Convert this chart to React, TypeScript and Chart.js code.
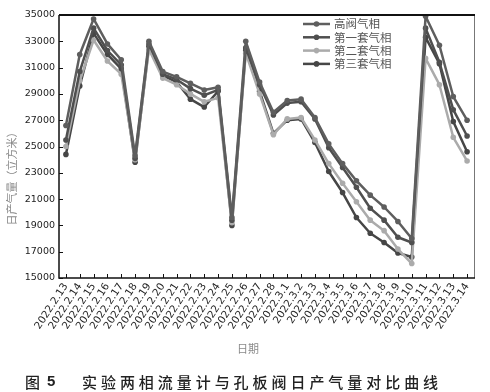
import { useEffect, useRef } from "react";
import { Chart, registerables } from "chart.js";
Chart.register(...registerables);

const categories = [
  "2022.2.13", "2022.2.14", "2022.2.15", "2022.2.16", "2022.2.17", "2022.2.18", "2022.2.19", "2022.2.20",
  "2022.2.21", "2022.2.22", "2022.2.23", "2022.2.24", "2022.2.25", "2022.2.26", "2022.2.27", "2022.2.28",
  "2022.3.1", "2022.3.2", "2022.3.3", "2022.3.4", "2022.3.5", "2022.3.6", "2022.3.7", "2022.3.8",
  "2022.3.9", "2022.3.10", "2022.3.11", "2022.3.12", "2022.3.13", "2022.3.14",
];
const seriesNames = ["高阀气相", "第一套气相", "第二套气相", "第三套气相"];
const gaoFa = [26600, 32000, 34700, 32800, 31600, 24300, 33000, 30700, 30300, 29800, 29300, 29500, 19600, 33000, 29900, 27600, 28500, 28600, 27200, 25200, 23700, 22400, 21300, 20400, 19300, 18000, 34900, 32700, 28800, 27000];
const set1 = [25500, 30700, 34000, 32300, 31200, 24100, 32800, 30500, 30100, 29400, 28900, 29300, 19400, 32500, 29700, 27400, 28300, 28400, 27100, 24900, 23400, 21900, 20300, 19400, 18100, 17700, 34000, 31400, 27800, 25800];
const set2 = [25000, 30000, 33100, 31500, 30500, 24000, 32400, 30200, 29700, 29000, 28400, 28700, 19200, 32100, 29000, 25900, 27100, 27200, 25500, 23700, 22200, 20800, 19400, 18600, 17200, 16100, 31700, 29700, 25700, 23900];
const set3 = [24400, 29600, 33600, 32000, 30900, 23800, 32600, 30400, 29900, 28600, 28000, 29200, 19000, 32300, 29200, 26000, 27000, 27100, 25300, 23100, 21500, 19600, 18400, 17700, 16900, 16600, 33300, 31300, 26900, 24600];
const yMin = 15000;
const yMax = 35000;
const yStep = 2000;
const yTitle = "日产气量（立方米）";
const xTitle = "日期";
const captionFig = "图";
const captionNum = "5";
const captionText = "实验两相流量计与孔板阀日产气量对比曲线";

const colors = ["#5e5e5e", "#4f4f4f", "#ababab", "#464646"];

const framePlugin = {
  id: "frame",
  afterDraw(chart: any) {
    const { ctx, chartArea: a, scales } = chart;
    const xs = scales.x;
    const ys = scales.y;
    ctx.save();
    ctx.strokeStyle = "#111";
    ctx.lineWidth = 1;
    xs.ticks.forEach((_: any, i: number) => {
      const x = Math.round(xs.getPixelForTick(i)) + 0.5;
      ctx.beginPath();
      ctx.moveTo(x, a.bottom);
      ctx.lineTo(x, a.bottom - 4);
      ctx.stroke();
    });
    ys.ticks.forEach((_: any, i: number) => {
      const y = Math.round(ys.getPixelForTick(i)) + 0.5;
      ctx.beginPath();
      ctx.moveTo(a.left, y);
      ctx.lineTo(a.left + 4, y);
      ctx.stroke();
    });
    ctx.strokeStyle = "#777";
    ctx.lineWidth = 1;
    ctx.beginPath();
    ctx.moveTo(a.right + 0.5, a.top);
    ctx.lineTo(a.right + 0.5, a.bottom);
    ctx.stroke();
    ctx.strokeStyle = "#111";
    ctx.lineWidth = 2;
    ctx.beginPath();
    ctx.moveTo(a.left, a.top);
    ctx.lineTo(a.right + 1, a.top);
    ctx.stroke();
    ctx.lineWidth = 1.5;
    ctx.beginPath();
    ctx.moveTo(a.left, a.top);
    ctx.lineTo(a.left, a.bottom);
    ctx.lineTo(a.right + 1, a.bottom);
    ctx.stroke();

    ctx.fillStyle = "#8a8a8a";
    ctx.font = "11px 'Noto Sans CJK SC'";
    ctx.textAlign = "center";
    ctx.textBaseline = "middle";
    ctx.fillText(xTitle, 248, 349);
    ctx.save();
    ctx.translate(12, 176);
    ctx.rotate(-Math.PI / 2);
    ctx.fillText(yTitle, 0, 0);
    ctx.restore();

    ctx.fillStyle = "#222";
    ctx.font = "500 15px 'Noto Sans CJK SC'";
    ctx.textAlign = "left";
    ctx.fillText(captionFig, 25, 382);
    ctx.font = "bold 15px 'Liberation Sans'";
    ctx.fillText(captionNum, 47, 382);
    ctx.font = "500 15px 'Noto Sans CJK SC'";
    let cx = 82;
    for (const ch of captionText) {
      ctx.fillText(ch, cx, 382);
      cx += 18.95;
    }

    ctx.font = "11.5px 'Noto Sans CJK SC'";
    ctx.textBaseline = "middle";
    chart.data.datasets.forEach((ds: any, i: number) => {
      const y = 24 + i * 13.3;
      ctx.strokeStyle = ds.borderColor;
      ctx.fillStyle = ds.borderColor;
      ctx.lineWidth = 2.5;
      ctx.beginPath();
      ctx.moveTo(303, y);
      ctx.lineTo(330, y);
      ctx.stroke();
      ctx.beginPath();
      ctx.arc(316.5, y, 2.8, 0, Math.PI * 2);
      ctx.fill();
      ctx.fillStyle = "#555";
      ctx.fillText(ds.label, 334, y);
    });
    ctx.restore();
  },
};

export default function App() {
  const ref = useRef<HTMLCanvasElement>(null);
  useEffect(() => {
    document.body.style.margin = "0";
    const series = [gaoFa, set1, set2, set3];
    const chart = new Chart(ref.current!, {
      type: "line",
      data: {
        labels: categories,
        datasets: series.map((d, i) => ({
          label: seriesNames[i],
          data: d,
          borderColor: colors[i],
          backgroundColor: colors[i],
          pointBackgroundColor: colors[i],
          pointBorderColor: colors[i],
          borderWidth: 2.5,
          borderJoinStyle: "round" as const,
          pointRadius: 2.8,
          pointBorderWidth: 0,
          tension: 0,
        })),
      },
      options: {
        animation: false,
        responsive: false,
        maintainAspectRatio: false,
        layout: { padding: { left: 0, top: 15, right: 16, bottom: 0 } },
        plugins: { legend: { display: false }, tooltip: { enabled: false } },
        scales: {
          x: {
            type: "category",
            offset: true,
            grid: { display: false, drawTicks: false },
            border: { display: false },
            afterFit: (s: any) => { s.height = 114; },
            ticks: {
              autoSkip: false,
              minRotation: 57,
              maxRotation: 57,
              padding: 3,
              color: "#222",
              font: { family: "DejaVu Sans", size: 10.3 },
            },
          },
          y: {
            min: yMin,
            max: yMax,
            grid: { display: false, drawTicks: false },
            border: { display: false },
            afterFit: (s: any) => { s.width = 59; },
            ticks: {
              stepSize: yStep,
              padding: 4,
              color: "#222",
              font: { family: "DejaVu Sans", size: 9.5 },
              callback: (v: any) => String(v),
            },
          },
        },
      },
      plugins: [framePlugin],
    });
    return () => chart.destroy();
  }, []);
  return <canvas ref={ref} width={490} height={392} style={{ display: "block", width: 490, height: 392 }} />;
}
